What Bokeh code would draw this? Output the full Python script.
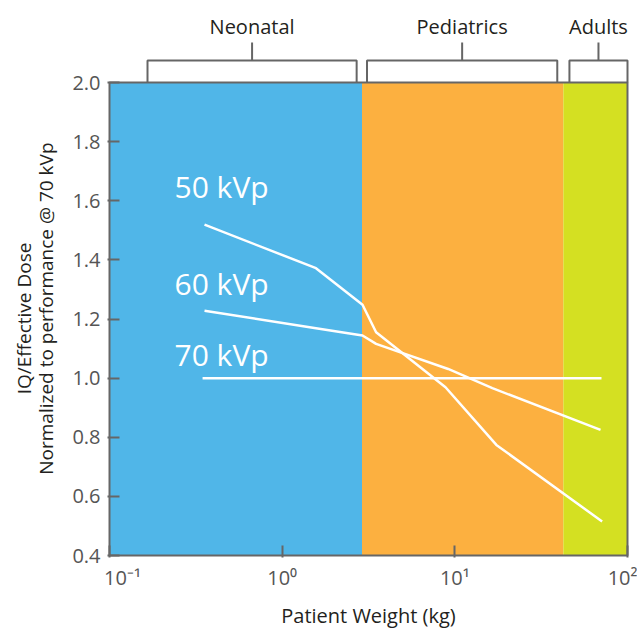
from bokeh.plotting import figure
from bokeh.models import Range1d, FixedTicker
from bokeh.embed import file_html
from bokeh.resources import INLINE
from bokeh.core.properties import value

FONT = "Open Sans"

# ---------------- data ----------------
weights_50 = [0.355, 1.57, 2.92, 3.5, 8.83, 17.4, 71.3]
iq_50 = [1.519, 1.372, 1.248, 1.155, 0.969, 0.774, 0.515]

weights_60 = [0.355, 1.57, 2.92, 3.5, 9.15, 16.5, 69.8]
iq_60 = [1.228, 1.169, 1.144, 1.116, 1.031, 0.966, 0.825]

weights_70 = [0.346, 70.7]
iq_70 = [1.0, 1.0]

series_names = ["50 kVp", "60 kVp", "70 kVp"]
series_label_x = [0.238, 0.238, 0.238]
series_label_y = [1.618, 1.291, 1.048]

groups = ["Neonatal", "Pediatrics", "Adults"]
group_start = [0.166, 3.10, 46.1]
group_end = [2.70, 39.2, 100.0]

region_edges = [0.1, 2.9, 42.5, 100.0]
region_colors = ["#50B6E8", "#FCB040", "#D4E022"]

x_min, x_max = 0.1, 100.0
y_min, y_max = 0.4, 2.0
x_ticks = [0.1, 1, 10, 100]
x_tick_labels = ["10\u207b\u00b9", "10\u2070", "10\u00b9", "10\u00b2"]
y_ticks = [0.4, 0.6, 0.8, 1.0, 1.2, 1.4, 1.6, 1.8, 2.0]

x_title = "Patient Weight (kg)"
y_title_lines = ["IQ/Effective Dose", "Normalized to performance @ 70 kVp"]

# ---------------- layout (pixels) ----------------
W, H = 637, 631
PLOT_L, PLOT_R, PLOT_T, PLOT_B = 109, 627, 82, 555   # plot area inside the page
PAD = 2                                              # room for the frame line
GRAY = "#666666"

dec_px = (PLOT_R - PLOT_L) / 3.0           # pixels per decade
upp = (y_max - y_min) / (PLOT_B - PLOT_T)  # data units per pixel (y)

frame_left = PLOT_L - PAD
frame_right = PLOT_R + PAD
frame_bottom = PLOT_B + PAD

xr = Range1d(10 ** (-1 - PAD / dec_px), 10 ** (2 + PAD / dec_px))
yr = Range1d(y_min - PAD * upp, y_max + PLOT_T * upp)


def y_px(px):
    """data y for a page pixel row (used for the bracket strip above the plot)"""
    return y_max + (PLOT_T - px) * upp


p = figure(width=W, height=H, x_axis_type="log", x_range=xr, y_range=yr,
           output_backend="svg", toolbar_location=None,
           min_border_left=frame_left, min_border_right=W - frame_right,
           min_border_top=0, min_border_bottom=H - frame_bottom)
p.grid.visible = False
p.outline_line_color = None
p.background_fill_color = "white"
p.border_fill_color = "white"

# coloured regions
p.quad(left=region_edges[:-1], right=region_edges[1:], bottom=y_min, top=y_max,
       fill_color=region_colors, line_color=None)

# series
for xs, ys in [(weights_50, iq_50), (weights_60, iq_60), (weights_70, iq_70)]:
    p.line(xs, ys, line_color="white", line_width=2.5, line_join="round")

p.text(x=series_label_x, y=series_label_y, text=series_names, text_align="left",
       text_baseline="alphabetic", y_offset=-9, text_font=value(FONT),
       text_font_size="30px", text_color="white")

# plot-area frame
p.quad(left=[x_min], right=[x_max], bottom=[y_min], top=[y_max],
       fill_color=None, line_color=GRAY, line_width=2)

# group brackets above the plot area
mids = [(s * e) ** 0.5 for s, e in zip(group_start, group_end)]
bx = [[s, s, e, e] for s, e in zip(group_start, group_end)]
by = [[y_max, y_px(60), y_px(60), y_max] for _ in groups]
p.multi_line(xs=bx, ys=by, line_color=GRAY, line_width=2)
p.multi_line(xs=[[m, m] for m in mids], ys=[[y_px(60), y_px(42)] for _ in groups],
             line_color=GRAY, line_width=2)
p.text(x=mids, y=[y_px(33)] * len(groups), text=groups, text_align="center",
       text_baseline="alphabetic", y_offset=-7, text_font=value(FONT),
       text_font_size="20px", text_color="#231f20")

# axes
for ax in (p.xaxis[0], p.yaxis[0]):
    ax.axis_line_color = None
    ax.major_tick_in = 12
    ax.major_tick_out = 0
    ax.major_tick_line_color = GRAY
    ax.major_tick_line_width = 2
    ax.minor_tick_line_color = None
    ax.axis_label_text_font = FONT
    ax.axis_label_text_font_style = "normal"
    ax.axis_label_text_color = "#231f20"
    ax.major_label_text_font = FONT
    ax.major_label_text_color = "#555555"
    ax.major_label_text_font_size = "20px"

NB = "\u00a0"
p.xaxis.ticker = FixedTicker(ticks=x_ticks)
overrides = {t: lab for t, lab in zip(x_ticks, x_tick_labels)}
overrides[x_ticks[0]] = NB * 5 + x_tick_labels[0]
p.xaxis.major_label_overrides = overrides
p.xaxis.major_label_standoff = 6
p.xaxis.axis_label = x_title
p.xaxis.axis_label_text_font_size = "20px"
p.xaxis.axis_label_standoff = 8

p.yaxis.ticker = FixedTicker(ticks=y_ticks)
p.yaxis.major_label_overrides = {t: f"{t:.1f}" for t in y_ticks}
p.yaxis.major_label_standoff = 7
# trailing no-break spaces centre the title on the plot area rather than the full frame
p.yaxis.axis_label = "\n".join([y_title_lines[0] + NB * 16, y_title_lines[1] + NB * 12])
p.yaxis.axis_label_text_font_size = "19px"
p.yaxis.axis_label_text_line_height = 0.85
p.yaxis.axis_label_standoff = 10

open("out.html", "w").write(file_html(p, INLINE))
